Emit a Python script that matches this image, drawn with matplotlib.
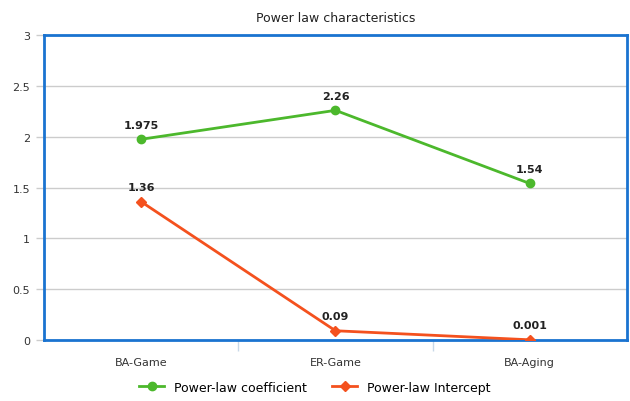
import matplotlib.pyplot as plt
import numpy as np

# 資料
categories = ["BA-Game", "ER-Game", "BA-Aging"]
coefficient = [1.975, 2.26, 1.54]
intercept = [1.36, 0.09, 0.001]
coef_labels = ["1.975", "2.26", "1.54"]
inter_labels = ["1.36", "0.09", "0.001"]

green = "#4cb82c"
orange = "#f4511e"

fig = plt.figure(figsize=(6.3, 4.02), dpi=100)
ax = fig.add_axes([0.070, 0.152, 0.925, 0.758])

x = np.arange(len(categories))
ax.plot(x, coefficient, color=green, marker="o", markersize=6, linewidth=2, label="Power-law coefficient", zorder=3)
ax.plot(x, intercept, color=orange, marker="D", markersize=5, linewidth=2, label="Power-law Intercept", zorder=3)

for xi, v, t in zip(x, coefficient, coef_labels):
    ax.annotate(t, (xi, v), xytext=(0, 7), textcoords="offset points", ha="center", va="bottom",
                fontsize=8, fontweight="bold", color="#222222")
for xi, v, t in zip(x, intercept, inter_labels):
    ax.annotate(t, (xi, v), xytext=(0, 7), textcoords="offset points", ha="center", va="bottom",
                fontsize=8, fontweight="bold", color="#222222")

ax.set_xlim(-0.5, 2.5)
ax.set_ylim(0, 3)
ax.set_yticks([0, 0.5, 1, 1.5, 2, 2.5, 3])
ax.set_yticklabels(["0", "0.5", "1", "1.5", "2", "2.5", "3"], fontsize=8, color="#333333")
ax.set_xticks(x)
ax.set_xticklabels(categories, fontsize=8, color="#333333")
ax.tick_params(axis="x", length=0, pad=12)
ax.set_xticks([0.5, 1.5], minor=True)
ax.tick_params(axis="x", which="minor", length=8, color="#c8d8e8", width=1)
ax.tick_params(axis="y", length=6, color="#cccccc", width=1, pad=4)

ax.grid(axis="y", color="#cccccc", linewidth=1)
ax.set_axisbelow(True)
for s in ax.spines.values():
    s.set_color("#1a73d0")
    s.set_linewidth(2)

ax.set_title("Power law characteristics", fontsize=9, color="#222222", pad=10)

fig.legend(loc="lower center", bbox_to_anchor=(0.5, -0.01), ncol=2, frameon=False, fontsize=9,
           handlelength=2, columnspacing=2)

plt.savefig("out.png")
